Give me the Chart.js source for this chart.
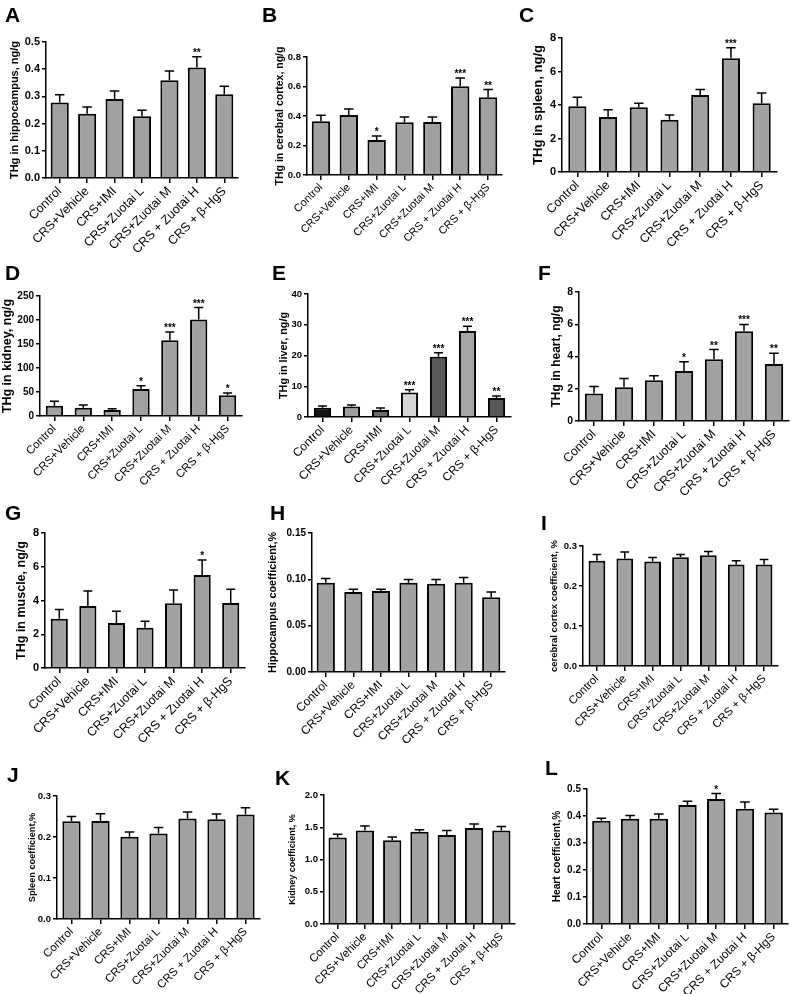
<!DOCTYPE html>
<html><head><meta charset="utf-8">
<script src="https://cdn.jsdelivr.net/npm/chart.js@4.4.0/dist/chart.umd.min.js"></script>
<style>
html,body{margin:0;padding:0;background:#fff;}
body{width:796px;height:994px;position:relative;overflow:hidden;font-family:'Liberation Sans',Arial,sans-serif;}
canvas{position:absolute;}
.lbl{position:absolute;font-weight:bold;font-size:21px;line-height:1;color:#000;}
</style></head><body>
<script>
const FONT = "'Liberation Sans', Arial, sans-serif";
const categories = ['Control','CRS+Vehicle','CRS+IMI','CRS+Zuotai L','CRS+Zuotai M','CRS + Zuotai H','CRS + β-HgS'];

const titleA = 'THg in hippocampus, ng/g';
const meanA = [0.278, 0.236, 0.290, 0.227, 0.359, 0.406, 0.308];
const semA  = [0.028, 0.025, 0.030, 0.022, 0.034, 0.040, 0.029];
const starsA = ['', '', '', '', '', '**', ''];
const ticksA = ['0.0','0.1','0.2','0.3','0.4','0.5'];

const titleB = 'THg in cerebral cortex, ng/g';
const meanB = [0.364, 0.407, 0.237, 0.357, 0.359, 0.601, 0.527];
const semB  = [0.041, 0.040, 0.027, 0.036, 0.034, 0.057, 0.052];
const starsB = ['', '', '*', '', '', '***', '**'];
const ticksB = ['0.0','0.2','0.4','0.6','0.8'];

const titleC = 'THg in spleen, ng/g';
const meanC = [3.92, 3.28, 3.86, 3.12, 4.60, 6.79, 4.10];
const semC  = [0.54, 0.44, 0.24, 0.28, 0.32, 0.63, 0.62];
const starsC = ['', '', '', '', '', '***', ''];
const ticksC = ['0','2','4','6','8'];

const titleD = 'THg in kidney, ng/g';
const meanD = [21.5, 17.4, 12.5, 56, 158, 201, 43];
const semD  = [9, 5.6, 2.8, 7, 17, 25, 5];
const starsD = ['', '', '', '*', '***', '***', '*'];
const ticksD = ['0','50','100','150','200','250'];

const titleE = 'THg in liver, ng/g';
const meanE = [3.0, 3.4, 2.3, 8.0, 19.6, 28.0, 6.2];
const semE  = [0.6, 0.5, 0.6, 0.9, 1.3, 1.5, 0.6];
const starsE = ['', '', '', '***', '***', '***', '**'];
const ticksE = ['0','10','20','30','40'];

const titleF = 'THg in heart, ng/g';
const meanF = [1.70, 2.10, 2.52, 3.10, 3.83, 5.57, 3.53];
const semF  = [0.44, 0.54, 0.28, 0.58, 0.60, 0.42, 0.67];
const starsF = ['', '', '', '*', '**', '***', '**'];
const ticksF = ['0','2','4','6','8'];

const titleG = 'THg in muscle, ng/g';
const meanG = [2.92, 3.68, 2.67, 2.39, 3.83, 5.51, 3.85];
const semG  = [0.54, 0.88, 0.69, 0.38, 0.79, 0.89, 0.81];
const starsG = ['', '', '', '', '', '*', ''];
const ticksG = ['0','2','4','6','8'];

const titleH = 'Hippocampus coefficient,%';
const meanH = [0.0963, 0.0862, 0.0873, 0.0963, 0.0952, 0.0963, 0.0808];
const semH  = [0.0047, 0.0032, 0.0021, 0.0036, 0.0047, 0.0057, 0.0054];
const starsH = ['', '', '', '', '', '', ''];
const ticksH = ['0.00','0.05','0.10','0.15'];

const titleI = 'cerebral cortex coefficient, %';
const meanI = [0.263, 0.269, 0.261, 0.272, 0.277, 0.254, 0.254];
const semI  = [0.016, 0.016, 0.010, 0.007, 0.009, 0.009, 0.012];
const starsI = ['', '', '', '', '', '', ''];
const ticksI = ['0.0','0.1','0.2','0.3'];

const titleJ = 'Spleen coefficient,%';
const meanJ = [0.2385, 0.239, 0.2005, 0.2086, 0.245, 0.243, 0.2546];
const semJ  = [0.0115, 0.018, 0.012, 0.0144, 0.016, 0.013, 0.017];
const starsJ = ['', '', '', '', '', '', ''];
const ticksJ = ['0.0','0.1','0.2','0.3'];

const titleK = 'Kidney coefficient, %';
const meanK = [1.34, 1.45, 1.30, 1.43, 1.38, 1.49, 1.45];
const semK  = [0.05, 0.07, 0.05, 0.03, 0.07, 0.06, 0.06];
const starsK = ['', '', '', '', '', '', ''];
const ticksK = ['0.0','0.5','1.0','1.5','2.0'];

const titleL = 'Heart coefficient,%';
const meanL = [0.382, 0.390, 0.390, 0.441, 0.463, 0.427, 0.413];
const semL  = [0.010, 0.012, 0.017, 0.014, 0.020, 0.025, 0.012];
const starsL = ['', '', '', '', '*', '', ''];
const ticksL = ['0.0','0.1','0.2','0.3','0.4','0.5'];

const barGray = '#a1a1a1';
const colorsE = ['#151515','#9e9e9e','#6c6c6c','#d5d5d5','#585858','#a5a5a5','#585858'];

// layout (cell: x,y,w,h ; box: axis left, top, right, bottom)
const panels = [
 {id:'A', mean:meanA, sem:semA, stars:starsA, ticks:ticksA, title:titleA, cell:[0,0,265,258],   box:[46,42,238,178],  titleX:15,  fx:12.5, fy:11,  ft:11,  bp:0.66, letter:[5,7]},
 {id:'B', mean:meanB, sem:semB, stars:starsB, ticks:ticksB, title:titleB, cell:[265,0,265,258], box:[307,57,502,175], titleX:280, fx:11,   fy:9.5, ft:10.5,bp:0.66, letter:[262,7]},
 {id:'C', mean:meanC, sem:semC, stars:starsC, ticks:ticksC, title:titleC, cell:[530,0,266,258], box:[562,38,777,172], titleX:538, fx:12.5, fy:11,  ft:13,  bp:0.59, letter:[519,7]},
 {id:'D', mean:meanD, sem:semD, stars:starsD, ticks:ticksD, title:titleD, cell:[0,250,265,258], box:[40,296,242,416], titleX:7,   fx:11.5, fy:10,  ft:12.5,bp:0.6,  letter:[5,265]},
 {id:'E', mean:meanE, sem:semE, stars:starsE, ticks:ticksE, title:titleE, cell:[265,250,265,258],box:[308,294,511,417],titleX:284, fx:12,   fy:9.5, ft:10.8,bp:0.59, letter:[272,265], colors:colorsE},
 {id:'F', mean:meanF, sem:semF, stars:starsF, ticks:ticksF, title:titleF, cell:[530,250,266,258],box:[579,292,789,421],titleX:557, fx:12.5, fy:10.5,ft:12,  bp:0.61, letter:[538,265]},
 {id:'G', mean:meanG, sem:semG, stars:starsG, ticks:ticksG, title:titleG, cell:[0,500,265,253], box:[45,533,245,668], titleX:22,  fx:12.5, fy:11,  ft:12.5,bp:0.6,  letter:[5,505]},
 {id:'H', mean:meanH, sem:semH, stars:starsH, ticks:ticksH, title:titleH, cell:[265,500,265,253],box:[312,533,505,672],titleX:273, fx:12,   fy:10,  ft:10.8,bp:0.66, letter:[270,505]},
 {id:'I', mean:meanI, sem:semI, stars:starsI, ticks:ticksI, title:titleI, cell:[530,500,266,253],box:[583,546,778,666],titleX:554, fx:11.5, fy:9.5, ft:9.5, bp:0.6,  letter:[541,515]},
 {id:'J', mean:meanJ, sem:semJ, stars:starsJ, ticks:ticksJ, title:titleJ, cell:[0,745,265,257], box:[57,796,260,919], titleX:32,  fx:11.5, fy:9.5, ft:9.2, bp:0.63, letter:[7,767]},
 {id:'K', mean:meanK, sem:semK, stars:starsK, ticks:ticksK, title:titleK, cell:[265,745,265,257],box:[324,795,515,924],titleX:293, fx:11.5, fy:9.5, ft:9,   bp:0.67, letter:[275,770]},
 {id:'L', mean:meanL, sem:semL, stars:starsL, ticks:ticksL, title:titleL, cell:[530,745,266,257],box:[587,789,788,924],titleX:557, fx:12,   fy:10,  ft:10.2,bp:0.64, letter:[545,760]}
];

const errPlugin = {
  id:'errbars',
  afterDatasetsDraw(chart){
    const ctx = chart.ctx;
    const ds = chart.data.datasets[0];
    const meta = chart.getDatasetMeta(0);
    const ys = chart.scales.y;
    ctx.save();
    ctx.strokeStyle = '#000';
    ctx.lineWidth = 1.5;
    meta.data.forEach((bar, i) => {
      const top = ys.getPixelForValue(ds.data[i] + ds.sem[i]);
      const half = bar.width * 0.26;
      ctx.beginPath();
      ctx.moveTo(bar.x, bar.y);
      ctx.lineTo(bar.x, top);
      ctx.moveTo(bar.x - half, top);
      ctx.lineTo(bar.x + half, top);
      ctx.stroke();
      if (ds.stars[i]) {
        ctx.fillStyle = '#000';
        ctx.font = 'bold 10px ' + FONT;
        ctx.textAlign = 'center';
        ctx.textBaseline = 'alphabetic';
        ctx.fillText(ds.stars[i], bar.x, top - 1);
      }
    });
    ctx.restore();
  }
};

panels.forEach(p => {
  const [cx, cy, cw, ch] = p.cell;
  const cv = document.createElement('canvas');
  cv.width = cw; cv.height = ch;
  cv.style.left = cx + 'px'; cv.style.top = cy + 'px';
  cv.style.width = cw + 'px'; cv.style.height = ch + 'px';
  document.body.appendChild(cv);

  const lb = document.createElement('div');
  lb.className = 'lbl';
  lb.textContent = p.id;
  lb.style.left = p.letter[0] + 'px';
  lb.style.top = (p.letter[1] - 3) + 'px';
  document.body.appendChild(lb);

  const [L, T, R, B] = p.box;
  const padL = Math.max(0, p.titleX - 0.6 * p.ft - cx);
  const yW = L - cx - padL;
  const xH = cy + ch - B;
  const tickVals = p.ticks.map(Number);
  const step = tickVals[1] - tickVals[0];
  const axisGrid = {display:true, drawOnChartArea:false, drawTicks:true, tickLength:4, color:'#000', lineWidth:1.5};

  new Chart(cv, {
    type:'bar',
    data:{labels:categories, datasets:[{
      data:p.mean, sem:p.sem, stars:p.stars,
      backgroundColor:p.colors || barGray, borderColor:'#000', borderWidth:2,
      barPercentage:p.bp, categoryPercentage:1
    }]},
    options:{
      responsive:false, animation:false,
      layout:{padding:{left:padL, top:T - cy, right:cx + cw - R, bottom:0}},
      plugins:{legend:{display:false}, tooltip:{enabled:false}},
      scales:{
        x:{
          grid:Object.assign({offset:false}, axisGrid, {tickLength:5}),
          border:{display:true, color:'#000', width:1.5},
          ticks:{autoSkip:false, maxRotation:45, minRotation:45, color:'#000', padding:1, font:{family:FONT, size:p.fx}},
          afterFit:s => { s.height = xH; }
        },
        y:{
          min:0, max:tickVals[tickVals.length - 1],
          grid:axisGrid,
          border:{display:true, color:'#000', width:1.5},
          ticks:{stepSize:step, color:'#000', padding:2, font:{family:FONT, size:p.fy, weight:'bold'},
                 callback:(v, i) => p.ticks[i]},
          title:{display:true, text:p.title, color:'#000', padding:0, font:{family:FONT, size:p.ft, weight:'bold'}},
          afterFit:s => { s.width = yW; }
        }
      }
    },
    plugins:[errPlugin]
  });
});
</script>
</body></html>
